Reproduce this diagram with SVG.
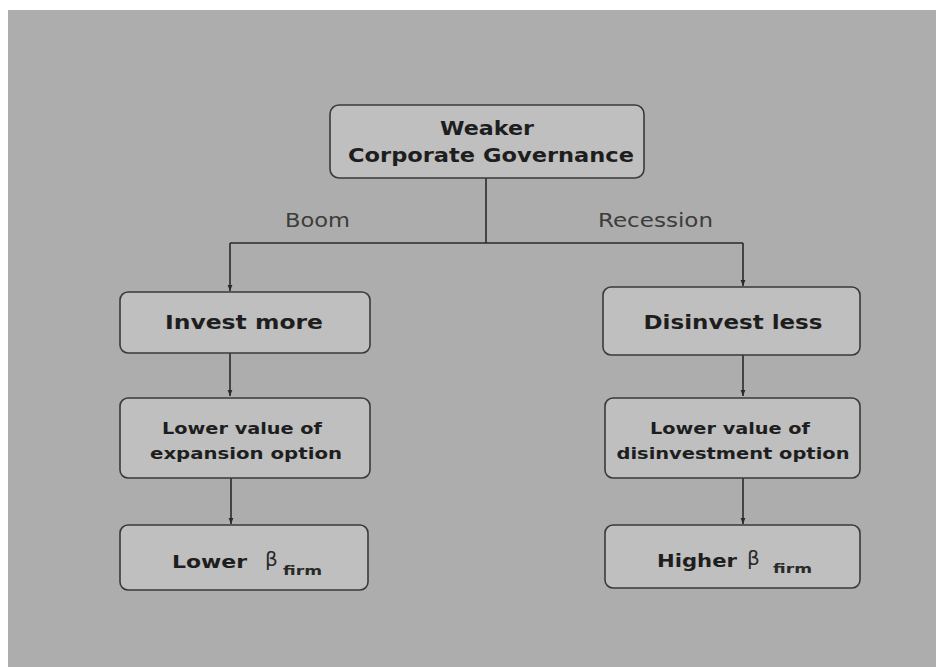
<svg xmlns="http://www.w3.org/2000/svg" width="936" height="667" viewBox="0 0 936 667">
  <style>
    .box { fill: #bfbfbf; stroke: #3a3a3a; stroke-width: 1.6; }
    .t { font-family: "DejaVu Sans", Verdana, sans-serif; font-weight: bold; fill: #1e1e1e; text-anchor: middle; }
    .ts { font-family: "DejaVu Sans", Verdana, sans-serif; font-weight: bold; fill: #1e1e1e; }
    .lbl { font-family: "DejaVu Sans", Verdana, sans-serif; font-size: 19px; fill: #3c3c3c; }
    .beta { font-family: "DejaVu Sans", sans-serif; font-weight: normal; fill: #2a2a2a; }
    .sub { font-family: "DejaVu Sans", sans-serif; font-weight: bold; fill: #2a2a2a; }
    .conn { fill: none; stroke: #2a2a2a; stroke-width: 1.6; }
  </style>
  <defs>
    <marker id="arr" viewBox="0 0 10 10" refX="10" refY="5" markerWidth="6" markerHeight="6" orient="auto" markerUnits="userSpaceOnUse">
      <path d="M0,1 L10,5 L0,9 z" fill="#2a2a2a"/>
    </marker>
  </defs>
  <rect x="0" y="0" width="936" height="667" fill="#ffffff"/>
  <rect x="8" y="10" width="928" height="657" fill="#adadad"/>

  <g id="connectors">
    <path class="conn" d="M486,178 V243"/>
    <path class="conn" d="M230,243 H743"/>
    <path class="conn" d="M230,243 V291" marker-end="url(#arr)"/>
    <path class="conn" d="M743,243 V286" marker-end="url(#arr)"/>
    <path class="conn" d="M230,353 V396" marker-end="url(#arr)"/>
    <path class="conn" d="M743,355 V396" marker-end="url(#arr)"/>
    <path class="conn" d="M231,478 V524" marker-end="url(#arr)"/>
    <path class="conn" d="M743,478 V524" marker-end="url(#arr)"/>
    <text class="lbl" x="285" y="227" textLength="65" lengthAdjust="spacingAndGlyphs">Boom</text>
    <text class="lbl" x="598" y="227" textLength="115" lengthAdjust="spacingAndGlyphs">Recession</text>
  </g>

  <g id="weaker-governance">
    <rect class="box" x="330" y="105" width="314" height="73" rx="9"/>
    <text class="t" x="487" y="135" font-size="20" textLength="94" lengthAdjust="spacingAndGlyphs">Weaker</text>
    <text class="t" x="491" y="162" font-size="20" textLength="286" lengthAdjust="spacingAndGlyphs">Corporate Governance</text>
  </g>

  <g id="invest-more">
    <rect class="box" x="120" y="292" width="250" height="61" rx="8"/>
    <text class="t" x="244" y="329" font-size="19" textLength="158" lengthAdjust="spacingAndGlyphs">Invest more</text>
  </g>

  <g id="disinvest-less">
    <rect class="box" x="603" y="287" width="257" height="68" rx="8"/>
    <text class="t" x="733" y="329" font-size="19" textLength="179" lengthAdjust="spacingAndGlyphs">Disinvest less</text>
  </g>

  <g id="expansion-option">
    <rect class="box" x="120" y="398" width="250" height="80" rx="8"/>
    <text class="t" x="242" y="434" font-size="15" textLength="160" lengthAdjust="spacingAndGlyphs">Lower value of</text>
    <text class="t" x="246" y="459" font-size="15" textLength="192" lengthAdjust="spacingAndGlyphs">expansion option</text>
  </g>

  <g id="disinvestment-option">
    <rect class="box" x="605" y="398" width="255" height="80" rx="8"/>
    <text class="t" x="730" y="434" font-size="15" textLength="160" lengthAdjust="spacingAndGlyphs">Lower value of</text>
    <text class="t" x="733" y="459" font-size="15" textLength="233" lengthAdjust="spacingAndGlyphs">disinvestment option</text>
  </g>

  <g id="lower-beta">
    <rect class="box" x="120" y="525" width="248" height="65" rx="8"/>
    <text class="ts" x="172" y="568" font-size="17" textLength="75" lengthAdjust="spacingAndGlyphs">Lower</text>
    <text class="beta" x="265" y="566" font-size="20">β</text>
    <text class="sub" x="283" y="575" font-size="12" textLength="39" lengthAdjust="spacingAndGlyphs">firm</text>
  </g>

  <g id="higher-beta">
    <rect class="box" x="605" y="525" width="255" height="63" rx="8"/>
    <text class="ts" x="657" y="567" font-size="17" textLength="80" lengthAdjust="spacingAndGlyphs">Higher</text>
    <text class="beta" x="747" y="565" font-size="20">β</text>
    <text class="sub" x="773" y="573" font-size="12" textLength="39" lengthAdjust="spacingAndGlyphs">firm</text>
  </g>
</svg>
